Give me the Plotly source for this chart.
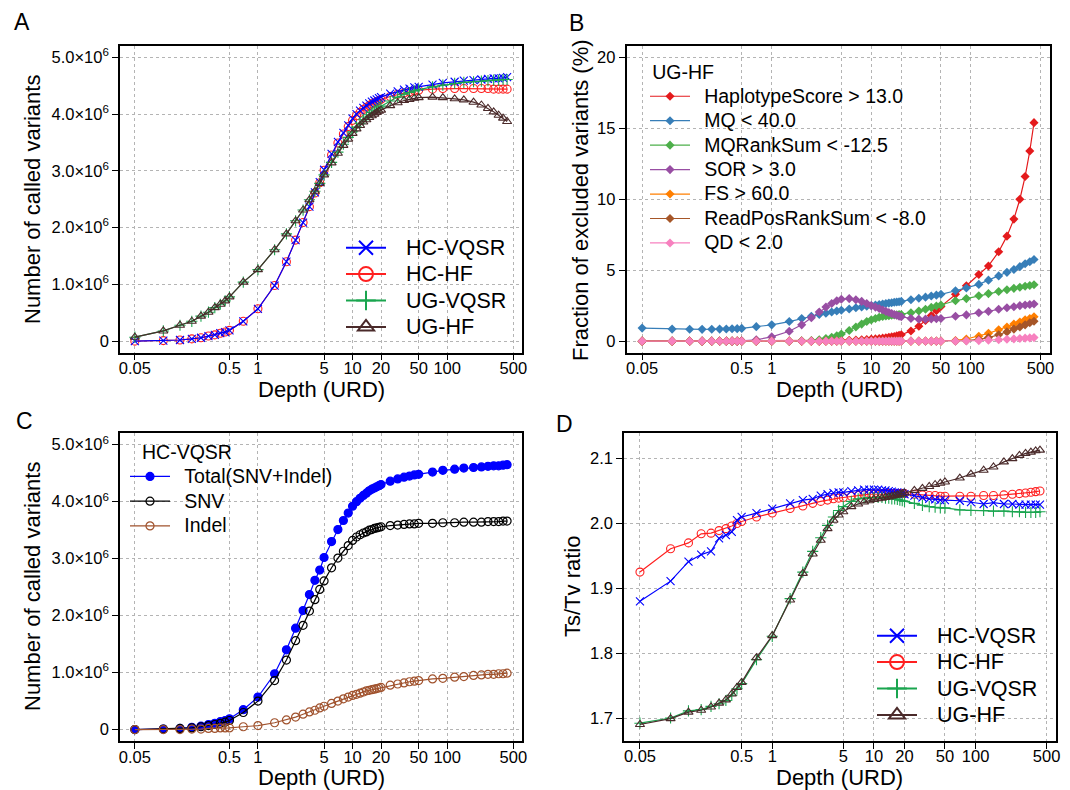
"""Four-panel depth comparison chart (A-D)."""
import plotly.graph_objects as go

# ---------------- data ----------------
depth = [0.05, 0.1, 0.15, 0.2, 0.25, 0.3, 0.35, 0.4, 0.45, 0.5,
         0.7, 1, 1.5, 2, 2.5, 3, 3.5, 4, 4.5, 5,
         6, 7, 8, 9, 10, 11, 12, 13, 14, 15,
         16, 17, 18, 19, 20, 25, 30, 35, 40, 45,
         50, 70, 90, 120, 150, 190, 230, 270, 310, 350,
         390, 430]

# panel A / C : number of called variants (millions)
hc_vqsr = [0.00, 0.01, 0.02, 0.04, 0.06, 0.09, 0.11, 0.14, 0.16, 0.19,
           0.35, 0.57, 0.98, 1.40, 1.78, 2.09, 2.37, 2.62, 2.80, 3.02,
           3.30, 3.51, 3.67, 3.80, 3.92, 4.00, 4.06, 4.11, 4.15, 4.19,
           4.22, 4.24, 4.26, 4.28, 4.30, 4.36, 4.40, 4.43, 4.45, 4.47,
           4.48, 4.52, 4.55, 4.57, 4.59, 4.60, 4.61, 4.62, 4.63, 4.63,
           4.64, 4.65]
hc_hf = [0.00, 0.01, 0.02, 0.04, 0.06, 0.09, 0.11, 0.14, 0.16, 0.19,
         0.35, 0.57, 0.98, 1.40, 1.78, 2.09, 2.37, 2.61, 2.79, 3.01,
         3.28, 3.49, 3.65, 3.78, 3.89, 3.97, 4.03, 4.08, 4.12, 4.15,
         4.18, 4.20, 4.22, 4.24, 4.26, 4.31, 4.35, 4.37, 4.39, 4.41,
         4.42, 4.44, 4.45, 4.45, 4.45, 4.45, 4.45, 4.45, 4.44, 4.44,
         4.44, 4.44]
ug_vqsr = [0.07, 0.18, 0.28, 0.35, 0.44, 0.51, 0.59, 0.65, 0.71, 0.78,
           1.04, 1.26, 1.61, 1.89, 2.12, 2.31, 2.49, 2.64, 2.78, 2.93,
           3.15, 3.33, 3.47, 3.59, 3.69, 3.77, 3.84, 3.90, 3.95, 3.99,
           4.03, 4.06, 4.09, 4.12, 4.14, 4.23, 4.30, 4.35, 4.38, 4.41,
           4.43, 4.48, 4.51, 4.54, 4.56, 4.57, 4.58, 4.59, 4.60, 4.60,
           4.61, 4.61]
ug_hf = [0.07, 0.18, 0.28, 0.35, 0.44, 0.51, 0.59, 0.65, 0.71, 0.78,
         1.04, 1.26, 1.61, 1.89, 2.12, 2.31, 2.49, 2.64, 2.78, 2.93,
         3.14, 3.31, 3.45, 3.56, 3.66, 3.74, 3.80, 3.86, 3.90, 3.94,
         3.97, 4.00, 4.03, 4.05, 4.07, 4.15, 4.20, 4.24, 4.26, 4.28,
         4.29, 4.30, 4.29, 4.27, 4.25, 4.21, 4.16, 4.10, 4.04, 3.98,
         3.93, 3.87]
snv = [0.00, 0.01, 0.02, 0.03, 0.05, 0.07, 0.09, 0.11, 0.13, 0.16,
       0.30, 0.50, 0.86, 1.22, 1.56, 1.83, 2.08, 2.28, 2.46, 2.61,
       2.84, 3.01, 3.13, 3.23, 3.32, 3.38, 3.42, 3.45, 3.47, 3.50,
       3.51, 3.53, 3.54, 3.55, 3.56, 3.58, 3.59, 3.60, 3.61, 3.61,
       3.62, 3.62, 3.63, 3.63, 3.64, 3.64, 3.64, 3.65, 3.65, 3.65,
       3.66, 3.66]
indel = [0.00, 0.00, 0.00, 0.01, 0.01, 0.02, 0.02, 0.03, 0.03, 0.03,
         0.05, 0.07, 0.12, 0.17, 0.22, 0.27, 0.31, 0.34, 0.38, 0.41,
         0.46, 0.50, 0.54, 0.57, 0.60, 0.62, 0.64, 0.66, 0.68, 0.69,
         0.70, 0.71, 0.72, 0.73, 0.74, 0.78, 0.80, 0.82, 0.84, 0.85,
         0.86, 0.89, 0.90, 0.92, 0.93, 0.95, 0.96, 0.97, 0.97, 0.98,
         0.98, 0.99]

# panel B : fraction of excluded variants (%), UG-HF filters
haplo = [0, 0, 0, 0, 0, 0, 0, 0, 0, 0,
         0, 0, 0, 0, 0, 0, 0.01, 0.02, 0.03, 0.05,
         0.06, 0.08, 0.10, 0.12, 0.14, 0.16, 0.18, 0.21, 0.24, 0.27,
         0.30, 0.33, 0.37, 0.41, 0.45, 0.72, 1.05, 1.45, 1.80, 2.15,
         2.45, 3.30, 3.90, 4.70, 5.30, 6.30, 7.40, 8.60, 10.0, 11.6,
         13.4, 15.4]
mq = [0.92, 0.85, 0.84, 0.83, 0.84, 0.85, 0.86, 0.87, 0.88, 0.90,
      1.02, 1.15, 1.38, 1.60, 1.75, 1.88, 1.97, 2.05, 2.12, 2.18,
      2.27, 2.35, 2.41, 2.46, 2.50, 2.54, 2.58, 2.62, 2.65, 2.68,
      2.71, 2.74, 2.76, 2.78, 2.80, 2.92, 3.02, 3.10, 3.18, 3.24,
      3.30, 3.55, 3.75, 4.00, 4.30, 4.60, 4.85, 5.05, 5.25, 5.45,
      5.60, 5.75]
mq_rank = [0, 0, 0, 0, 0, 0, 0, 0, 0, 0,
           0, 0, 0, 0.02, 0.05, 0.10, 0.18, 0.28, 0.38, 0.50,
           0.75, 1.00, 1.20, 1.38, 1.50, 1.60, 1.68, 1.74, 1.78, 1.80,
           1.82, 1.84, 1.85, 1.87, 1.88, 2.00, 2.12, 2.25, 2.38, 2.48,
           2.55, 2.85, 3.00, 3.20, 3.35, 3.50, 3.62, 3.72, 3.80, 3.87,
           3.92, 3.97]
sor = [0, 0, 0, 0, 0, 0, 0, 0, 0, 0.02,
       0.10, 0.30, 0.70, 1.15, 1.65, 2.05, 2.40, 2.65, 2.85, 2.95,
       3.00, 2.92, 2.80, 2.65, 2.50, 2.40, 2.30, 2.20, 2.10, 2.02,
       1.95, 1.88, 1.82, 1.76, 1.72, 1.60, 1.55, 1.55, 1.57, 1.58,
       1.60, 1.75, 1.85, 2.00, 2.10, 2.25, 2.35, 2.42, 2.50, 2.55,
       2.58, 2.62]
fs = [0, 0, 0, 0, 0, 0, 0, 0, 0, 0,
      0, 0, 0, 0, 0, 0, 0, 0, 0, 0,
      0, 0, 0, 0, 0, 0, 0, 0, 0, 0,
      0, 0, 0, 0, 0, 0, 0, 0, 0, 0,
      0, 0.05, 0.15, 0.35, 0.55, 0.80, 1.00, 1.20, 1.35, 1.50,
      1.60, 1.72]
read_pos = [0, 0, 0, 0, 0, 0, 0, 0, 0, 0,
            0, 0, 0, 0, 0, 0, 0, 0, 0, 0,
            0, 0, 0, 0, 0, 0, 0, 0, 0, 0,
            0, 0, 0, 0, 0, 0, 0, 0, 0, 0,
            0, 0, 0.03, 0.12, 0.25, 0.45, 0.65, 0.85, 1.00, 1.15,
            1.30, 1.40]
qd = [0, 0, 0, 0, 0, 0, 0, 0, 0, 0,
      0, 0, 0, 0, 0, 0, 0, 0, 0, 0,
      0, 0, 0, 0, 0, 0, 0, 0, 0, 0,
      0, 0, 0, 0, 0, 0, 0, 0, 0, 0,
      0, 0, 0.02, 0.04, 0.07, 0.10, 0.13, 0.16, 0.19, 0.21,
      0.23, 0.25]

# panel D : Ts/Tv ratio
tstv_hc_vqsr = [1.880, 1.911, 1.941, 1.952, 1.957, 1.977, 1.982, 1.987, 2.005, 2.010,
                2.016, 2.023, 2.031, 2.036, 2.038, 2.043, 2.045, 2.047, 2.048, 2.048,
                2.050, 2.051, 2.052, 2.052, 2.052, 2.052, 2.051, 2.051, 2.050, 2.049,
                2.048, 2.048, 2.047, 2.046, 2.045, 2.043, 2.040, 2.038, 2.037, 2.036,
                2.036, 2.035, 2.033, 2.030, 2.032, 2.030, 2.030, 2.029, 2.029, 2.029,
                2.029, 2.029]
tstv_hc_hf = [1.925, 1.961, 1.970, 1.984, 1.985, 1.989, 1.992, 1.996, 2.000, 2.003,
              2.010, 2.016, 2.023, 2.027, 2.031, 2.034, 2.036, 2.038, 2.039, 2.040,
              2.042, 2.043, 2.044, 2.045, 2.045, 2.046, 2.046, 2.046, 2.046, 2.046,
              2.046, 2.046, 2.046, 2.046, 2.046, 2.045, 2.044, 2.043, 2.043, 2.042,
              2.042, 2.042, 2.042, 2.043, 2.043, 2.044, 2.045, 2.046, 2.047, 2.048,
              2.049, 2.050]
tstv_ug_vqsr = [1.692, 1.700, 1.711, 1.713, 1.718, 1.722, 1.727, 1.735, 1.745, 1.753,
                1.790, 1.826, 1.884, 1.925, 1.957, 1.978, 1.997, 2.010, 2.020, 2.026,
                2.034, 2.038, 2.039, 2.040, 2.040, 2.040, 2.040, 2.039, 2.039, 2.038,
                2.038, 2.037, 2.036, 2.035, 2.034, 2.031, 2.028, 2.026, 2.025, 2.024,
                2.024, 2.021, 2.020, 2.020, 2.019, 2.019, 2.018, 2.018, 2.017, 2.017,
                2.017, 2.018]
tstv_ug_hf = [1.690, 1.699, 1.709, 1.712, 1.717, 1.723, 1.728, 1.737, 1.747, 1.755,
              1.793, 1.827, 1.882, 1.923, 1.953, 1.974, 1.992, 2.005, 2.013, 2.018,
              2.026, 2.030, 2.033, 2.035, 2.037, 2.038, 2.039, 2.040, 2.041, 2.042,
              2.043, 2.044, 2.045, 2.046, 2.047, 2.051, 2.054, 2.057, 2.060, 2.062,
              2.064, 2.070, 2.076, 2.082, 2.087, 2.095, 2.100, 2.105, 2.108, 2.110,
              2.112, 2.113]

x_ticks = [0.05, 0.5, 1, 5, 10, 20, 50, 100, 500]
x_tick_text = ["0.05", "0.5", "1", "5", "10", "20", "50", "100", "500"]
count_ticks = [0, 1, 2, 3, 4, 5]
count_tick_text = ["0"] + [f"{v}.0×10<sup>6</sup>" for v in [1, 2, 3, 4, 5]]

# ---------------- style ----------------
# the page body has an 8px margin, so the figure is drawn 8px in from the corner
OFF = 8
W, H = 1070 - OFF, 790 - OFF
FONT = "Liberation Sans, Arial, sans-serif"
GRID = "#b4b4b4"
C_BLUE, C_RED, C_GREEN, C_BROWN = "#0000ff", "#ff2020", "#1aa54f", "#4a2a2a"
SET1 = ["#e41a1c", "#377eb8", "#4daf4a", "#984ea3", "#ff7f00", "#a65628", "#f781bf"]


def fx(p):
    return (p - OFF) / W


def fy(p):
    return 1 - (p - OFF) / H


def big(text, size, pad=3):
    """Legend label drawn larger than the legend row height."""
    return "&nbsp;" * pad + f'<span style="font-size:{size}px">{text}</span>'


def x_axis(left, right, anchor):
    return dict(
        type="log", range=[-1.458, 2.791], domain=[fx(left), fx(right)], anchor=anchor,
        tickvals=x_ticks, ticktext=x_tick_text, tickfont=dict(size=16.5),
        showgrid=True, gridcolor=GRID, griddash="dot", gridwidth=1,
        showline=True, mirror=True, linecolor="black", linewidth=1.6,
        ticks="outside", ticklen=6, tickcolor="black", zeroline=False,
        ticklabelstandoff=-6, automargin=False,
    )


def y_axis(top, bottom, anchor, rng, tickvals, ticktext):
    return dict(
        range=rng, domain=[fy(bottom), fy(top)], anchor=anchor,
        tickvals=tickvals, ticktext=ticktext, tickfont=dict(size=16.5),
        showgrid=True, gridcolor=GRID, griddash="dot", gridwidth=1,
        showline=True, mirror=True, linecolor="black", linewidth=1.6,
        ticks="outside", ticklen=6, tickcolor="black", zeroline=False,
        automargin=False,
    )


fig = go.Figure()

# ---------------- panel A ----------------
series_a = [
    ("HC-HF", hc_hf, C_RED, "circle-open"),
    ("HC-VQSR", hc_vqsr, C_BLUE, "x-thin-open"),
    ("UG-VQSR", ug_vqsr, C_GREEN, "cross-thin-open"),
    ("UG-HF", ug_hf, C_BROWN, "triangle-up-open"),
]
for name, ys, color, sym in series_a:
    fig.add_trace(go.Scatter(
        x=depth, y=ys, mode="lines+markers", name=name, showlegend=False,
        line=dict(color=color, width=1.2),
        marker=dict(symbol=sym, size=8, color=color, line=dict(color=color, width=1.1)),
        xaxis="x", yaxis="y",
    ))

legend_order = ["HC-VQSR", "HC-HF", "UG-VQSR", "UG-HF"]
legend_style = {n: (c, s) for n, _, c, s in series_a}
for lg, xa, ya in [("legend", "x", "y"), ("legend4", "x4", "y4")]:
    for name in legend_order:
        color, sym = legend_style[name]
        fig.add_trace(go.Scatter(
            x=[None], y=[None], mode="lines+markers", name=big(name, 21.5), legend=lg,
            line=dict(color=color, width=2),
            marker=dict(symbol=sym, size=14, color=color, line=dict(color=color, width=2)),
            xaxis=xa, yaxis=ya,
        ))

# ---------------- panel B ----------------
series_b = [
    ("HaplotypeScore > 13.0", haplo),
    ("MQ < 40.0", mq),
    ("MQRankSum < -12.5", mq_rank),
    ("SOR > 3.0", sor),
    ("FS > 60.0", fs),
    ("ReadPosRankSum < -8.0", read_pos),
    ("QD < 2.0", qd),
]
for i, (name, ys) in enumerate(series_b):
    fig.add_trace(go.Scatter(
        x=depth, y=ys, mode="lines+markers", name=big(name, 19.5, 2), legend="legend2",
        legendrank=i, line=dict(color=SET1[i], width=1.2),
        marker=dict(symbol="diamond", size=7, color=SET1[i]),
        xaxis="x2", yaxis="y2",
    ))

# ---------------- panel C ----------------
series_c = [
    ("Total(SNV+Indel)", hc_vqsr, C_BLUE, "circle"),
    ("SNV", snv, "black", "circle-open"),
    ("Indel", indel, "#a0522d", "circle-open"),
]
for name, ys, color, sym in series_c:
    fig.add_trace(go.Scatter(
        x=depth, y=ys, mode="lines+markers", name=big(name, 19.5, 2), legend="legend3",
        line=dict(color=color, width=1.2),
        marker=dict(symbol=sym, size=8, color=color, line=dict(color=color, width=1.2)),
        xaxis="x3", yaxis="y3",
    ))

# ---------------- panel D ----------------
series_d = [
    ("HC-HF", tstv_hc_hf, C_RED, "circle-open"),
    ("HC-VQSR", tstv_hc_vqsr, C_BLUE, "x-thin-open"),
    ("UG-VQSR", tstv_ug_vqsr, C_GREEN, "cross-thin-open"),
    ("UG-HF", tstv_ug_hf, C_BROWN, "triangle-up-open"),
]
for name, ys, color, sym in series_d:
    fig.add_trace(go.Scatter(
        x=depth, y=ys, mode="lines+markers", name=name, showlegend=False,
        line=dict(color=color, width=1.2),
        marker=dict(symbol=sym, size=8, color=color, line=dict(color=color, width=1.1)),
        xaxis="x4", yaxis="y4",
    ))

# ---------------- layout ----------------
A_L, A_R, B_L, B_R, D_L, D_R = 120, 522, 626.5, 1049.7, 624, 1056
TOP_T, TOP_B, BOT_T, BOT_B = 46, 352.5, 433.3, 741

legend_base = dict(bgcolor="rgba(0,0,0,0)", xanchor="left", yanchor="top",
                   tracegroupgap=0, itemwidth=40)

fig.update_layout(
    width=W, height=H, margin=dict(l=0, r=0, t=0, b=0),
    paper_bgcolor="white", plot_bgcolor="white",
    font=dict(family=FONT, color="black", size=16),
    xaxis=x_axis(A_L, A_R, "y"),
    yaxis=y_axis(TOP_T, TOP_B, "x", [-0.2, 5.2], count_ticks, count_tick_text),
    xaxis2=x_axis(B_L, B_R, "y2"),
    yaxis2=y_axis(TOP_T, TOP_B, "x2", [-0.8, 20.8], [0, 5, 10, 15, 20],
                  ["0", "5", "10", "15", "20"]),
    xaxis3=x_axis(A_L, A_R, "y3"),
    yaxis3=y_axis(BOT_T, BOT_B, "x3", [-0.2, 5.2], count_ticks, count_tick_text),
    xaxis4=x_axis(D_L, D_R, "y4"),
    yaxis4=y_axis(BOT_T, 740.7, "x4", [1.665, 2.139], [1.7, 1.8, 1.9, 2.0, 2.1],
                  ["1.7", "1.8", "1.9", "2.0", "2.1"]),
    legend=dict(legend_base, x=fx(341), y=fy(229.5), font=dict(size=18)),
    legend2=dict(legend_base, x=fx(645), y=fy(54.3), font=dict(size=16.5),
                 title=dict(text=big("UG-HF", 19.5, 1), font=dict(size=19))),
    legend3=dict(legend_base, x=fx(125), y=fy(424), font=dict(size=16.7),
                 title=dict(text=big("HC-VQSR", 19.5, 2), font=dict(size=27))),
    legend4=dict(legend_base, x=fx(872), y=fy(617.5), font=dict(size=18)),
)

letters = [("A", 22, 22), ("B", 576, 23), ("C", 24, 421), ("D", 564, 424)]
for text, x, y in letters:
    fig.add_annotation(text=text, x=fx(x), y=fy(y), xref="paper", yref="paper",
                       xanchor="center", yanchor="middle",
                       showarrow=False, font=dict(size=23))

titles = [
    ("Depth (URD)", 321, 389, 0), ("Depth (URD)", 839, 389, 0),
    ("Depth (URD)", 321, 777, 0), ("Depth (URD)", 839, 777, 0),
    ("Number of called variants", 32, 200, -90),
    ("Fraction of excluded variants (%)", 580, 200, -90),
    ("Number of called variants", 32, 587, -90),
    ("Ts/Tv ratio", 572, 587, -90),
]
for text, x, y, ang in titles:
    fig.add_annotation(text=text, x=fx(x), y=fy(y), xref="paper", yref="paper",
                       xanchor="center", yanchor="middle",
                       showarrow=False, textangle=ang, font=dict(size=22))

fig.write_html("out.html")
